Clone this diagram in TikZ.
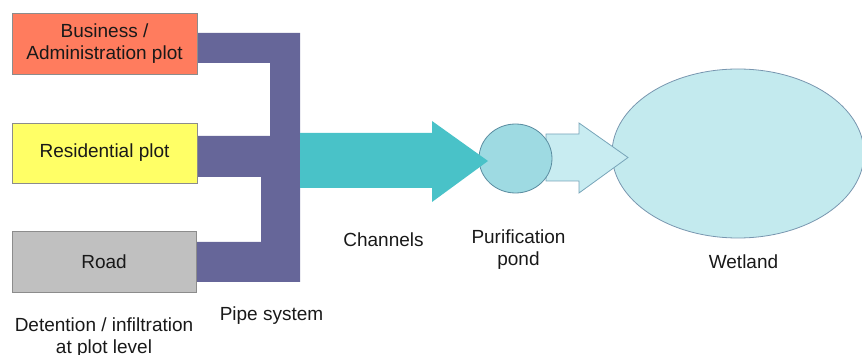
\documentclass[tikz,border=0pt]{standalone}
\usepackage{fontspec}
\setmainfont{Liberation Sans}
\usetikzlibrary{shapes.geometric}

\definecolor{bizred}{RGB}{255,124,94}
\definecolor{resyellow}{RGB}{255,255,102}
\definecolor{roadgray}{RGB}{192,192,192}
\definecolor{pipepurple}{RGB}{102,102,153}
\definecolor{channelteal}{RGB}{73,194,200}
\definecolor{pondfill}{RGB}{158,218,226}
\definecolor{pondline}{RGB}{90,140,160}
\definecolor{outletfill}{RGB}{200,236,241}
\definecolor{outletline}{RGB}{120,165,185}
\definecolor{wetfill}{RGB}{195,234,238}
\definecolor{wetline}{RGB}{120,150,175}

\begin{document}
\begin{tikzpicture}[x=1pt, y=-1pt,
  every node/.style={font=\fontsize{19}{22.5}\selectfont, text=black!90},
  plot/.style={draw=black!45, line width=0.8pt, minimum width=185pt, minimum height=61pt, align=center, inner sep=0pt},
  lbl/.style={anchor=base, inner sep=0pt},
  water/.style={ellipse, line width=0.8pt, inner sep=0pt}]
  \useasboundingbox (0,0) rectangle (862,355);

  % Pipe system
  \fill[pipepurple] (197,33) -- (300,33) -- (300,282) -- (197,282) -- (197,242) -- (261,242)
    -- (261,177) -- (197,177) -- (197,136) -- (270,136) -- (270,63) -- (197,63) -- cycle;

  % Plots
  \node[plot, fill=bizred] (biz) at (104.5,43.5) {Business /\\Administration plot};
  \node[plot, fill=resyellow, minimum height=60pt] (res) at (104.5,153) {Residential plot};
  \node[plot, fill=roadgray, minimum width=184pt] (road) at (104,261.5) {Road};

  % Wetland and pond
  \node[water, fill=wetfill, draw=wetline, minimum width=252pt, minimum height=169pt] (wet) at (738,153.5) {};
  \fill[outletfill, draw=outletline, line width=0.8pt] (546,134) -- (579,134) -- (579,123) -- (628,157.5)
    -- (579,193) -- (579,181) -- (546,181) -- cycle;
  \node[water, fill=pondfill, draw=pondline, minimum width=73pt, minimum height=69pt] (pond) at (515.5,158.5) {};

  % Channels
  \fill[channelteal] (300,133) -- (432,133) -- (432,121) -- (488,161) -- (432,202) -- (432,188) -- (300,188) -- cycle;

  % Captions
  \node[align=center, inner sep=0pt] (detention) at (104,337.5) {Detention / infiltration\\at plot level};
  \node[lbl] (pipes) at (271.5,320) {Pipe system};
  \node[lbl] (channels) at (383.5,247) {Channels};
  \node[align=center, inner sep=0pt] (purif) at (518.5,249.5) {Purification\\pond};
  \node[lbl] (wetland) at (743.5,269) {Wetland};
\end{tikzpicture}
\end{document}
